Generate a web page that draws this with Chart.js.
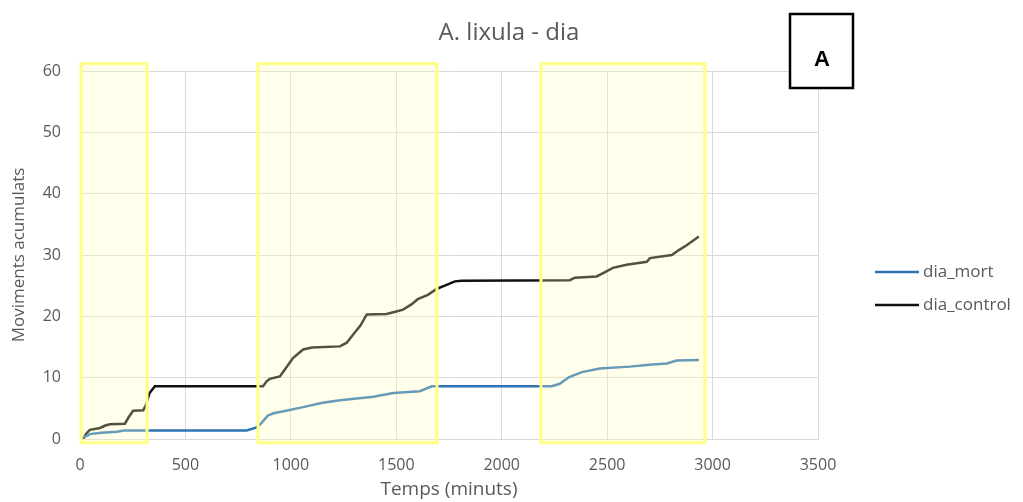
<!DOCTYPE html>
<html>
<head>
<meta charset="utf-8">
<script src="https://cdn.jsdelivr.net/npm/chart.js@4/dist/chart.umd.min.js"></script>
<style>
  html, body { margin: 0; padding: 0; background: #fff; }
  #wrap { width: 1023px; height: 502px; position: relative; }
</style>
</head>
<body>
<div id="wrap"><canvas id="movChart"></canvas></div>
<script>
// cumulative movements over time (minutes)
const mortTime = [15, 47, 100, 142, 175, 210, 790, 838, 860, 890, 917, 960, 1058, 1150, 1233, 1391, 1486, 1612, 1668, 2237, 2275, 2320, 2380, 2465, 2607, 2700, 2783, 2830, 2935];
const mortVals = [0.2, 0.8, 1.0, 1.1, 1.2, 1.4, 1.4, 1.9, 2.6, 3.8, 4.2, 4.5, 5.2, 5.9, 6.3, 6.9, 7.5, 7.8, 8.6, 8.6, 9.0, 10.1, 10.9, 11.5, 11.8, 12.1, 12.3, 12.8, 12.9];

const controlTime = [15, 30, 47, 95, 120, 142, 213, 230, 252, 300, 312, 330, 355, 845, 868, 885, 900, 948, 975, 1010, 1058, 1100, 1233, 1265, 1304, 1330, 1360, 1454, 1500, 1532, 1570, 1602, 1650, 1693, 1730, 1778, 1810, 2323, 2347, 2450, 2490, 2527, 2592, 2688, 2703, 2807, 2840, 2877, 2935];
const controlVals = [0.0, 0.9, 1.5, 1.8, 2.2, 2.4, 2.5, 3.5, 4.6, 4.7, 5.5, 7.5, 8.6, 8.6, 8.6, 9.4, 9.8, 10.2, 11.5, 13.2, 14.6, 14.9, 15.1, 15.7, 17.4, 18.5, 20.3, 20.4, 20.8, 21.1, 21.9, 22.8, 23.5, 24.5, 25.0, 25.7, 25.8, 25.9, 26.3, 26.5, 27.2, 27.9, 28.4, 28.9, 29.5, 30.0, 30.8, 31.6, 33.0];

// daylight periods (minutes) and the vertical span of their boxes
const dayPeriods = [[5, 318], [844, 1693], [2186, 2963]];
const dayBoxSpan = [-0.6, 61.2];

const xTicks = [0, 500, 1000, 1500, 2000, 2500, 3000, 3500];
const yTicks = [0, 10, 20, 30, 40, 50, 60];

const titleText = "A. lixula - dia";
const panelLetter = "A";

const toPoints = (ts, vs) => ts.map((t, i) => ({ x: t, y: vs[i] }));

const GREY = "#595959";
const FONT = "'Open Sans', 'DejaVu Sans', sans-serif";

// yellow day boxes drawn over the lines, plus title, panel letter and legend
const extrasPlugin = {
  id: "extras",
  afterDatasetsDraw(chart) {
    const { ctx, scales } = chart;
    const xs = scales.x, ys = scales.y;
    ctx.save();
    dayPeriods.forEach(([a, b]) => {
      const x0 = xs.getPixelForValue(a), x1 = xs.getPixelForValue(b);
      const y0 = ys.getPixelForValue(dayBoxSpan[1]), y1 = ys.getPixelForValue(dayBoxSpan[0]);
      ctx.fillStyle = "rgba(255, 255, 185, 0.27)";
      ctx.fillRect(x0, y0, x1 - x0, y1 - y0);
      ctx.strokeStyle = "#ffff85";
      ctx.lineWidth = 3;
      ctx.strokeRect(x0, y0, x1 - x0, y1 - y0);
    });
    ctx.restore();
  },
  afterDraw(chart) {
    const { ctx } = chart;
    ctx.save();
    // title
    ctx.fillStyle = GREY;
    ctx.font = "24px " + FONT;
    ctx.textAlign = "center";
    ctx.textBaseline = "alphabetic";
    ctx.fillText(titleText, 509, 40);

    // panel letter box
    ctx.strokeStyle = "#000";
    ctx.lineWidth = 2.5;
    ctx.fillStyle = "#fff";
    ctx.fillRect(790, 14, 63, 74);
    ctx.strokeRect(790, 14, 63, 74);
    ctx.fillStyle = "#000";
    ctx.textBaseline = "middle";
    ctx.font = "bold 22px 'Liberation Sans', Arial, sans-serif";
    ctx.fillText(panelLetter, 822, 60);

    // legend
    ctx.font = "17px " + FONT;
    ctx.textAlign = "left";
    chart.data.datasets.forEach((ds, i) => {
      const y = 272 + i * 33;
      ctx.strokeStyle = ds.borderColor;
      ctx.lineWidth = 2.5;
      ctx.beginPath();
      ctx.moveTo(875, y);
      ctx.lineTo(919, y);
      ctx.stroke();
      ctx.fillStyle = GREY;
      ctx.fillText(ds.label, 923, y);
    });
    ctx.restore();
  }
};

new Chart(document.getElementById("movChart"), {
  type: "line",
  data: {
    datasets: [
      {
        label: "dia_mort",
        data: toPoints(mortTime, mortVals),
        borderColor: "#2e75b6",
        borderWidth: 2.5,
        pointRadius: 0,
        tension: 0
      },
      {
        label: "dia_control",
        data: toPoints(controlTime, controlVals),
        borderColor: "#111111",
        borderWidth: 2.5,
        pointRadius: 0,
        tension: 0
      }
    ]
  },
  options: {
    responsive: true,
    maintainAspectRatio: false,
    animation: false,
    layout: { padding: { left: 0, right: 205, top: 71, bottom: 0 } },
    plugins: {
      legend: { display: false },
      tooltip: { enabled: false }
    },
    scales: {
      x: {
        type: "linear",
        min: 0,
        max: 3500,
        afterBuildTicks: s => { s.ticks = xTicks.map(v => ({ value: v })); },
        afterFit: s => { s.height = 63; },
        grid: { color: "#d9d9d9", drawTicks: false },
        border: { color: "#d9d9d9" },
        ticks: { color: GREY, font: { family: FONT, size: 16 }, padding: 17, maxRotation: 0, callback: v => String(v) },
        title: { display: true, text: "Temps (minuts)", color: GREY, font: { family: FONT, size: 19 }, padding: { top: 0, bottom: 1 } }
      },
      y: {
        min: 0,
        max: 60,
        afterBuildTicks: s => { s.ticks = yTicks.map(v => ({ value: v })); },
        afterFit: s => { s.width = 80; },
        grid: { color: "#d9d9d9", drawTicks: false },
        border: { color: "#d9d9d9" },
        ticks: { color: GREY, font: { family: FONT, size: 16 }, padding: 19 },
        title: { display: true, text: "Moviments acumulats", color: GREY, font: { family: FONT, size: 17 }, padding: { top: 9, bottom: 0 } }
      }
    }
  },
  plugins: [extrasPlugin]
});
</script>
</body>
</html>
